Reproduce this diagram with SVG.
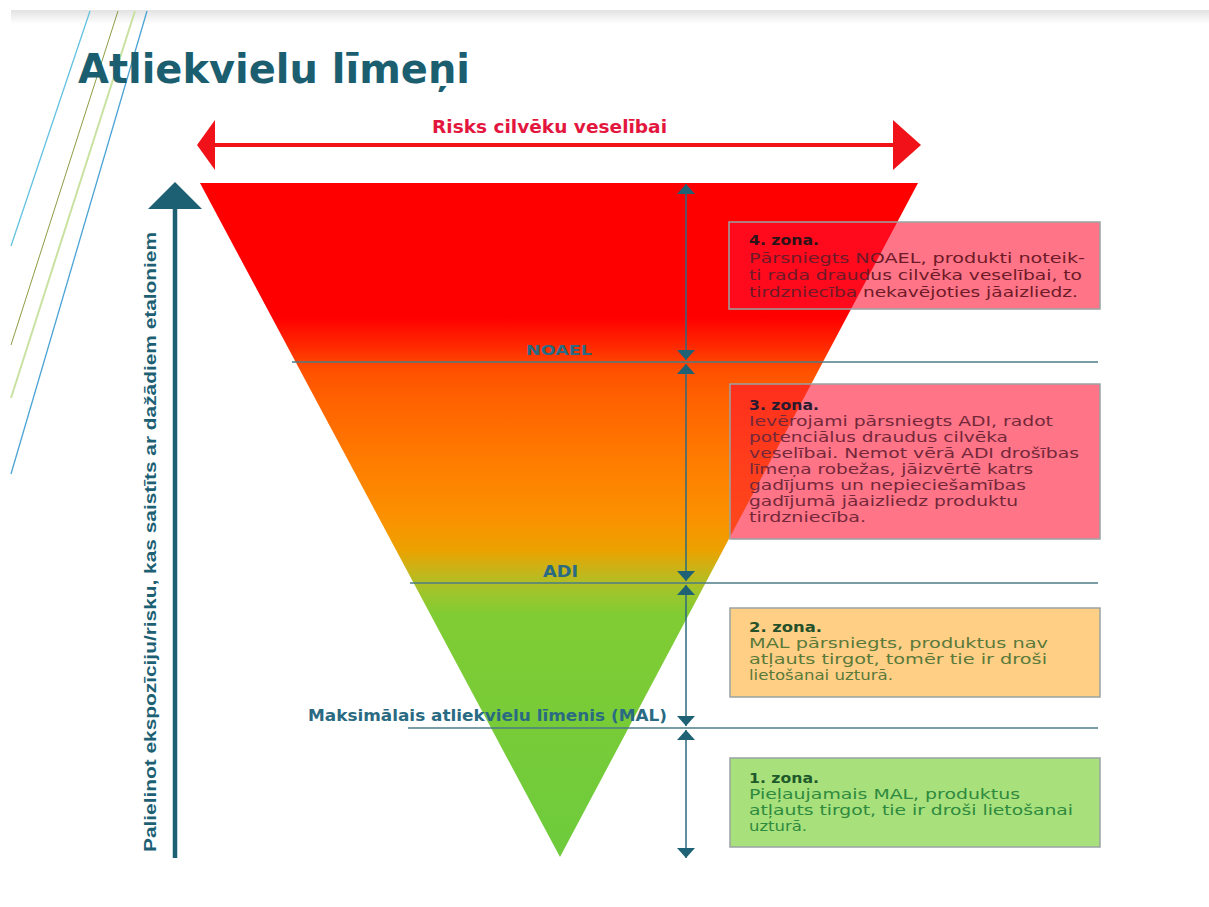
<svg xmlns="http://www.w3.org/2000/svg" width="1209" height="907" viewBox="0 0 1209 907">
<defs>
  <linearGradient id="tri" gradientUnits="userSpaceOnUse" x1="0" y1="183" x2="0" y2="857">
    <stop offset="0" stop-color="#ff0000"/>
    <stop offset="0.2" stop-color="#ff0000"/>
    <stop offset="0.245" stop-color="#ff2c00"/>
    <stop offset="0.28" stop-color="#ff5200"/>
    <stop offset="0.33" stop-color="#ff6400"/>
    <stop offset="0.411" stop-color="#ff7c00"/>
    <stop offset="0.5" stop-color="#fb9200"/>
    <stop offset="0.545" stop-color="#eba200"/>
    <stop offset="0.574" stop-color="#c8b418"/>
    <stop offset="0.604" stop-color="#a2c42a"/>
    <stop offset="0.641" stop-color="#80cc34"/>
    <stop offset="1" stop-color="#6ecb3c"/>
  </linearGradient>
  <linearGradient id="band" x1="0" y1="0" x2="0" y2="1">
    <stop offset="0" stop-color="#e2e2e2"/>
    <stop offset="1" stop-color="#ffffff"/>
  </linearGradient>
  <marker id="ah" viewBox="0 -10 10 20" refX="10" refY="0" markerWidth="10" markerHeight="20" markerUnits="userSpaceOnUse" orient="auto-start-reverse">
    <path d="M0,-9 L10,0 L0,9 z" fill="#1f6275"/>
  </marker>
</defs>
<style>
  .title{font-family:"DejaVu Sans","Liberation Sans",sans-serif;font-weight:bold;fill:#1b5e70}
  .lvl{font-family:"DejaVu Sans","Liberation Sans",sans-serif;font-weight:bold;fill:#2a6a82}
  .lvline{stroke:#4b7d86;stroke-width:1.5}
  .dim{stroke:#2b6a80;stroke-width:1.5;fill:none;marker-start:url(#ah);marker-end:url(#ah)}
  .box{stroke:#9aa3a3;stroke-width:1.5}
  .pink{fill:#ff1030;fill-opacity:0.58}
  .t{font-family:"DejaVu Sans","Liberation Sans",sans-serif;font-size:13.8px}
  .h{font-weight:bold}
  .diag{fill:none}
</style>

<rect x="0" y="0" width="1209" height="907" fill="#ffffff"/>
<rect x="11" y="10" width="1198" height="14" fill="url(#band)"/>

<g id="decor-lines">
  <line class="diag" x1="90" y1="11" x2="11" y2="246" stroke="#62c2e0" stroke-width="1.3"/>
  <line class="diag" x1="118" y1="11" x2="11" y2="345" stroke="#8f9a45" stroke-width="1"/>
  <line class="diag" x1="135" y1="11" x2="11" y2="398" stroke="#c9e2a2" stroke-width="2"/>
  <line class="diag" x1="147" y1="11" x2="11" y2="474" stroke="#4aa3d4" stroke-width="1.3"/>
</g>

<g id="title">
  <text class="title" x="78" y="83" font-size="41" textLength="392" lengthAdjust="spacingAndGlyphs">Atliekvielu līmeņi</text>
</g>

<g id="risk-arrow">
  <line x1="210" y1="145" x2="905" y2="145" stroke="#f01218" stroke-width="4"/>
  <polygon points="197,145 215,120 215,170" fill="#f01218"/>
  <polygon points="921,145 893,120 893,170" fill="#f01218"/>
  <text x="549.5" y="133" text-anchor="middle" font-family="'DejaVu Sans','Liberation Sans',sans-serif" font-weight="bold" font-size="17" fill="#e3173e" textLength="235" lengthAdjust="spacingAndGlyphs">Risks cilvēku veselībai</text>
</g>

<g id="axis">
  <line x1="175" y1="858" x2="175" y2="205" stroke="#1d5f73" stroke-width="4.5"/>
  <polygon points="175,182 148,209 202,209" fill="#1d5f73"/>
  <text transform="translate(156,852) rotate(-90)" font-family="'Liberation Sans',Arial,sans-serif" font-weight="bold" font-size="17" fill="#1d5f73" textLength="620" lengthAdjust="spacingAndGlyphs">Palielinot ekspozīciju/risku, kas saistīts ar dažādiem etaloniem</text>
</g>

<g id="triangle">
  <polygon points="200,183 918,183 560,857" fill="url(#tri)"/>
</g>

<g id="levels">
  <line class="lvline" x1="292" y1="362" x2="1098" y2="362"/>
  <line class="lvline" x1="410" y1="583" x2="1098" y2="583"/>
  <line class="lvline" x1="408" y1="728" x2="1098" y2="728"/>
  <text class="lvl" x="559" y="355" text-anchor="middle" font-size="14" textLength="66" lengthAdjust="spacingAndGlyphs">NOAEL</text>
  <text class="lvl" x="560.5" y="577" text-anchor="middle" font-size="15" textLength="35" lengthAdjust="spacingAndGlyphs">ADI</text>
  <text class="lvl" x="487.5" y="721" text-anchor="middle" font-size="15" textLength="359" lengthAdjust="spacingAndGlyphs">Maksimālais atliekvielu līmenis (MAL)</text>
</g>

<g id="connectors">
  <line class="dim" x1="686" y1="184" x2="686" y2="360"/>
  <line class="dim" x1="686" y1="364" x2="686" y2="581"/>
  <line class="dim" x1="686" y1="585" x2="686" y2="726"/>
  <line class="dim" x1="686" y1="730" x2="686" y2="858"/>
</g>

<g id="zone4">
  <rect class="box pink" x="729" y="222" width="371" height="87"/>
  <text class="t" fill="#6e1a28">
    <tspan class="h" x="749" y="245" fill="#2a1418" textLength="70" lengthAdjust="spacingAndGlyphs">4. zona.</tspan>
    <tspan x="749" y="263" textLength="336" lengthAdjust="spacingAndGlyphs">Pārsniegts NOAEL, produkti noteik-</tspan>
    <tspan x="749" y="280" textLength="333" lengthAdjust="spacingAndGlyphs">ti rada draudus cilvēka veselībai, to</tspan>
    <tspan x="749" y="297" textLength="329" lengthAdjust="spacingAndGlyphs">tirdzniecība nekavējoties jāaizliedz.</tspan>
  </text>
</g>

<g id="zone3">
  <rect class="box pink" x="730" y="384" width="370" height="155"/>
  <text class="t" fill="#74283a">
    <tspan class="h" x="749" y="410" fill="#2a1a30" textLength="70" lengthAdjust="spacingAndGlyphs">3. zona.</tspan>
    <tspan x="749" y="426" textLength="304" lengthAdjust="spacingAndGlyphs">Ievērojami pārsniegts ADI, radot</tspan>
    <tspan x="749" y="442" textLength="259" lengthAdjust="spacingAndGlyphs">potenciālus draudus cilvēka</tspan>
    <tspan x="749" y="458" textLength="330" lengthAdjust="spacingAndGlyphs">veselībai. Nemot vērā ADI drošības</tspan>
    <tspan x="749" y="474" textLength="284" lengthAdjust="spacingAndGlyphs">līmeņa robežas, jāizvērtē katrs</tspan>
    <tspan x="749" y="490" textLength="277" lengthAdjust="spacingAndGlyphs">gadījums un nepieciešamības</tspan>
    <tspan x="749" y="506" textLength="269" lengthAdjust="spacingAndGlyphs">gadījumā jāaizliedz produktu</tspan>
    <tspan x="749" y="522" textLength="117" lengthAdjust="spacingAndGlyphs">tirdzniecība.</tspan>
  </text>
</g>

<g id="zone2">
  <rect class="box" x="730" y="608" width="370" height="89" fill="#ffcf86"/>
  <text class="t" fill="#5a7a3a">
    <tspan class="h" x="749" y="632" fill="#24502a" textLength="73" lengthAdjust="spacingAndGlyphs">2. zona.</tspan>
    <tspan x="749" y="648" textLength="299" lengthAdjust="spacingAndGlyphs">MAL pārsniegts, produktus nav</tspan>
    <tspan x="749" y="664" textLength="298" lengthAdjust="spacingAndGlyphs">atļauts tirgot, tomēr tie ir droši</tspan>
    <tspan x="749" y="680" textLength="144" lengthAdjust="spacingAndGlyphs">lietošanai uzturā.</tspan>
  </text>
</g>

<g id="zone1">
  <rect class="box" x="730" y="758" width="370" height="89" fill="#a8e07c"/>
  <text class="t" fill="#2e8a3e">
    <tspan class="h" x="749" y="783" fill="#1e5a2a" textLength="70" lengthAdjust="spacingAndGlyphs">1. zona.</tspan>
    <tspan x="749" y="799" textLength="271" lengthAdjust="spacingAndGlyphs">Pieļaujamais MAL, produktus</tspan>
    <tspan x="749" y="815" textLength="324" lengthAdjust="spacingAndGlyphs">atļauts tirgot, tie ir droši lietošanai</tspan>
    <tspan x="749" y="831" textLength="58" lengthAdjust="spacingAndGlyphs">uzturā.</tspan>
  </text>
</g>
</svg>
